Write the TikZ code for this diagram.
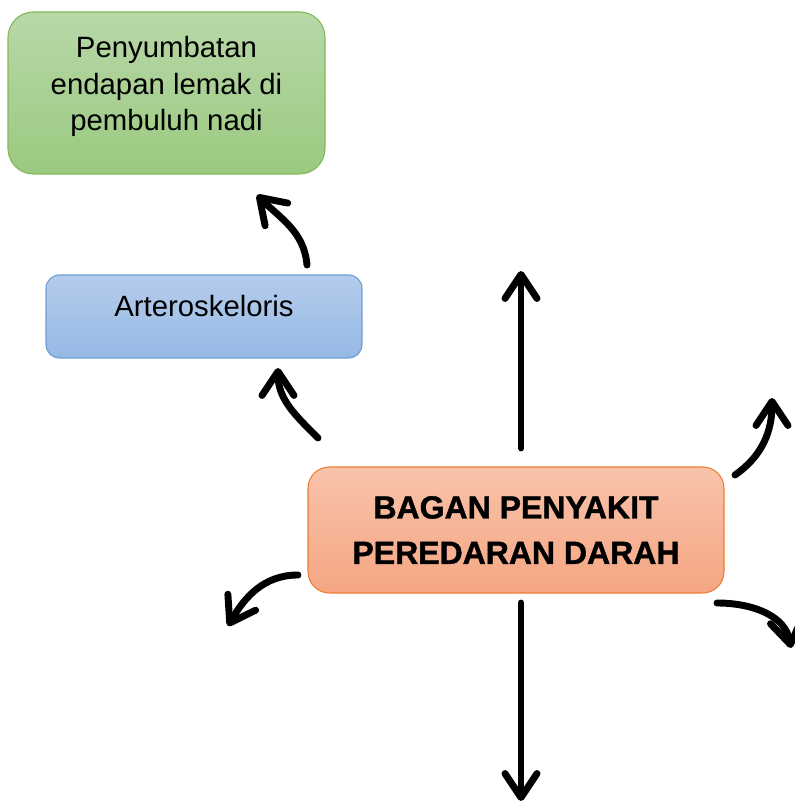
\documentclass[tikz,border=0pt]{standalone}
\usepackage{fontspec}
\setmainfont{Liberation Sans}
\newfontfamily\headfont{Liberation Sans}[BoldFeatures={FakeBold=1.2}]
\usetikzlibrary{arrows.meta}

\definecolor{greentop}{RGB}{184,216,168}
\definecolor{greenbot}{RGB}{155,201,128}
\definecolor{greenline}{RGB}{130,184,90}
\definecolor{bluetop}{RGB}{181,205,236}
\definecolor{bluebot}{RGB}{149,184,228}
\definecolor{blueline}{RGB}{109,156,212}
\definecolor{orangetop}{RGB}{248,195,170}
\definecolor{orangebot}{RGB}{245,166,131}
\definecolor{orangeline}{RGB}{237,125,49}

\begin{document}
\begin{tikzpicture}[x=0.75pt,y=0.75pt]
\tikzset{box/.style = {draw, line width=0.8pt, align=center, inner sep=0pt,
  font=\fontsize{22}{27.5}\selectfont}}
\tikzset{edge/.style = {line width=5.2pt, line cap=round,
  -{Straight Barb[length=18pt,width=24pt,line cap=round,line join=round]}}}
\useasboundingbox (0,0) rectangle (794,805);
\node[box, draw=greenline, top color=greentop, bottom color=greenbot,
  rounded corners=19pt, minimum width=237.75pt, minimum height=121.5pt,
  text depth=14pt] (lemak) at (166.5,712)
  {Penyumbatan\\endapan lemak di\\pembuluh nadi};
\node[box, draw=blueline, top color=bluetop, bottom color=bluebot,
  rounded corners=10pt, minimum width=237pt, minimum height=62.25pt,
  text height=15pt, text depth=15pt] (artero) at (204,488.5) {Arteroskeloris};
\node[box, draw=orangeline, top color=orangetop, bottom color=orangebot,
  rounded corners=16pt, minimum width=312pt, minimum height=94.5pt,
  font=\fontsize{24}{34}\selectfont\headfont\bfseries] (bagan) at (516,275) {BAGAN PENYAKIT\\PEREDARAN DARAH};
\coordinate (a1) at (307,540);
\coordinate (b1) at (257,610);
\coordinate (a2) at (318,367);
\coordinate (b2) at (278,437);
\coordinate (a3) at (521,357);
\coordinate (b3) at (521,534);
\coordinate (a4) at (735,330);
\coordinate (b4) at (772,407);
\coordinate (a5) at (298,230);
\coordinate (b5) at (228,179);
\coordinate (a6) at (521,202);
\coordinate (b6) at (521,4);
\coordinate (a7) at (717,202);
\coordinate (b7) at (791,157);
\draw[edge] (a1) to[out=95,in=-45] (b1);
\draw[edge] (a2) to[out=135,in=-90] (b2);
\draw[edge] (a3) to (b3);
\draw[edge] (a4) to[out=35,in=-90] (b4);
\draw[edge] (a5) to[out=180,in=60] (b5);
\draw[edge] (a6) to (b6);
\draw[edge] (a7) to[out=0,in=100] (b7);
\end{tikzpicture}
\end{document}
